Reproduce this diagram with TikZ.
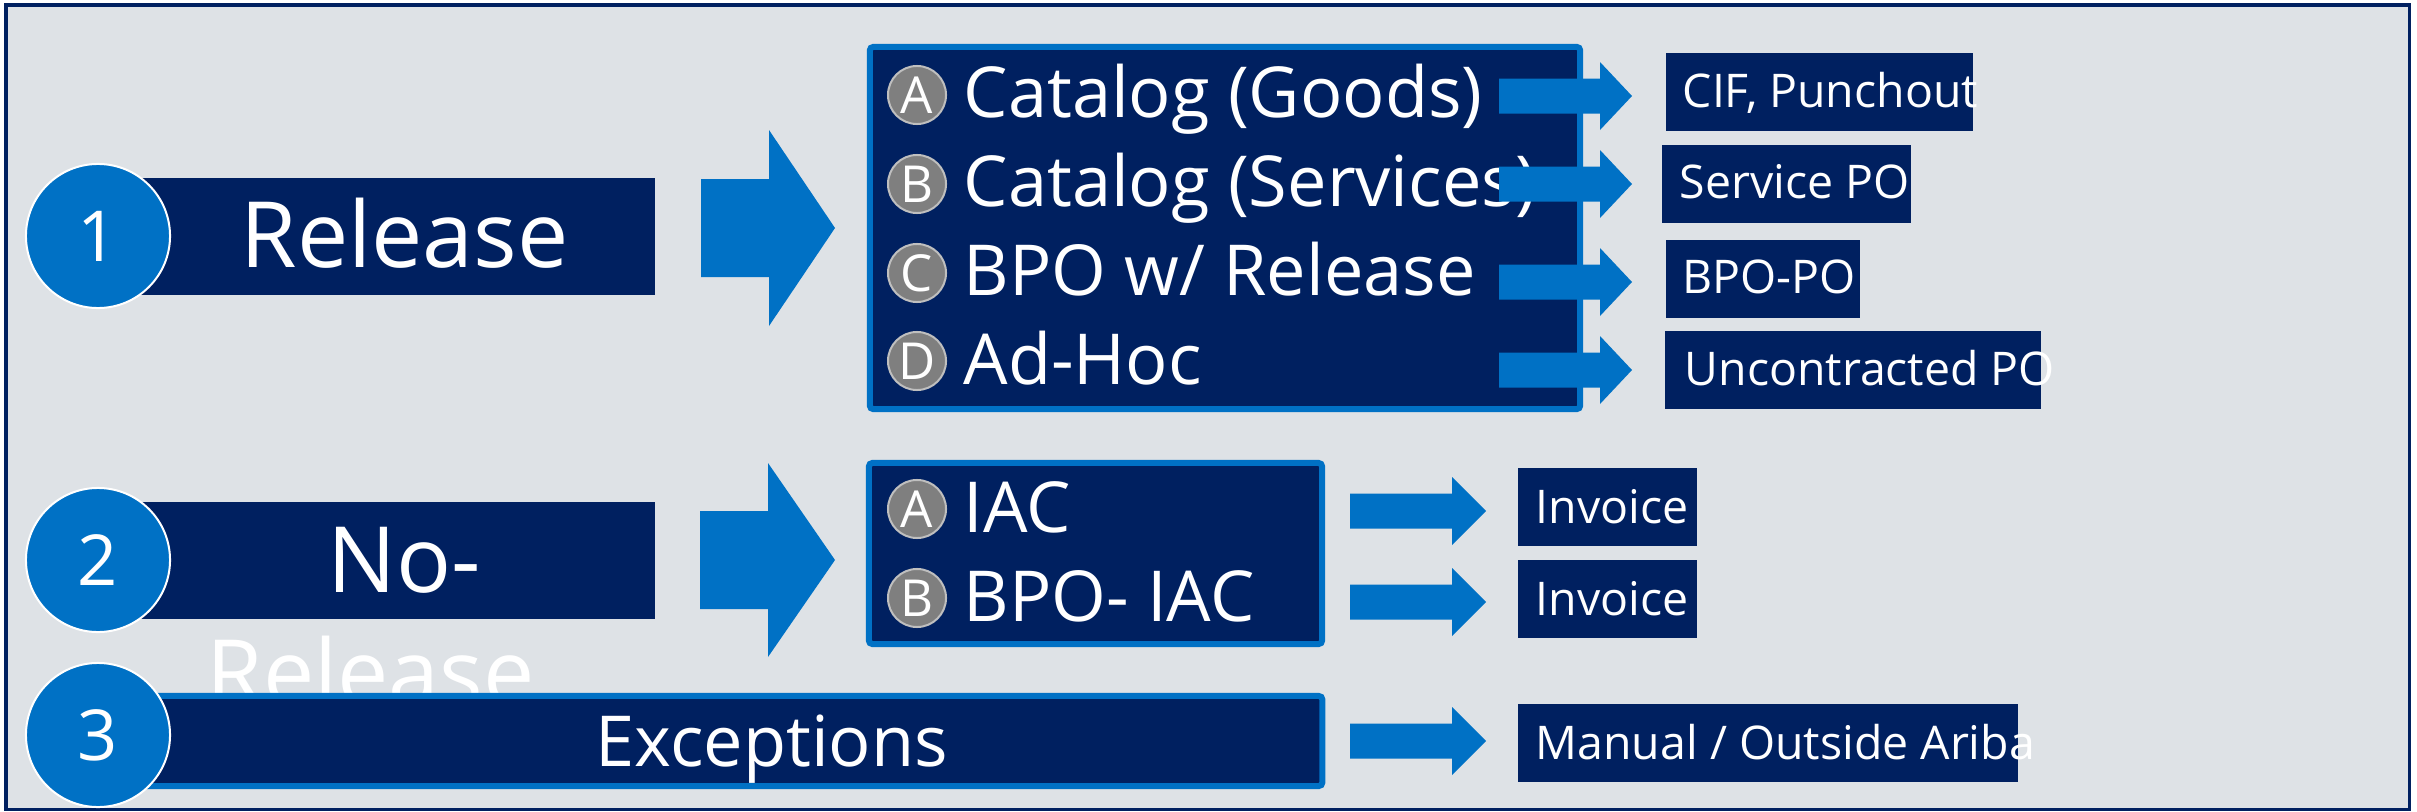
\documentclass[tikz,border=0pt]{standalone}
\usepackage{fontspec}
\setmainfont{Open Sans}
\definecolor{navy}{HTML}{002060}
\definecolor{intelblue}{HTML}{0071C5}
\definecolor{panelgray}{HTML}{DEE2E6}
\definecolor{badgegray}{HTML}{7F7F7F}
\definecolor{badgeline}{HTML}{BFBFBF}

% block arrow: start x, head base x, tip x, centre y, shaft half, head half
\newcommand{\blockarrow}[6]{%
  \fill[intelblue] (#1,#4-#5) -- (#2,#4-#5) -- (#2,#4-#6) -- (#3,#4)
    -- (#2,#4+#6) -- (#2,#4+#5) -- (#1,#4+#5) -- cycle;}

\tikzset{
  bar/.style={fill=navy, inner sep=0pt},
  groupbox/.style={fill=navy, draw=intelblue, line width=0.06cm, rounded corners=1pt, inner sep=0pt},
  outbox/.style={fill=navy, inner sep=0pt, minimum height=0.78cm},
  numcirc/.style={circle, fill=intelblue, draw=white, line width=0.02cm, minimum size=1.44cm,
    inner sep=0pt, text=white, font=\fontsize{20}{24}\selectfont},
  badge/.style={circle, fill=badgegray, draw=badgeline, line width=0.02cm, minimum size=0.58cm,
    inner sep=0pt, text=white, font=\fontsize{14.5}{16}\selectfont},
  bigtxt/.style={anchor=base west, inner sep=0pt, text=white, font=\fontsize{26}{30}\selectfont},
  listtxt/.style={anchor=base west, inner sep=0pt, text=white, font=\fontsize{20}{24}\selectfont},
  outtxt/.style={anchor=base west, inner sep=0pt, text=white, font=\fontsize{13.2}{16}\selectfont},
}

\begin{document}
\begin{tikzpicture}[x=0.01cm, y=-0.01cm]
    \useasboundingbox (0,0) rectangle (2417,812);
    % panel
    \draw[navy, line width=0.03cm, fill=panelgray] (6,5) rectangle (2409,809);
    % 1 release
    \node[bar, minimum width=5.55cm, minimum height=1.17cm] (relbar) at (377.5,236.5) {};
    \node[bigtxt] (reltxt) at (240,267) {Release};
    % 2 no-release
    \node[bar, minimum width=5.55cm, minimum height=1.17cm] (norelbar) at (377.5,560.5) {};
    \node[bigtxt] (notxt) at (327,592) {No-};
    \node[bigtxt] (noreltxt) at (206,705) {Release};
    % 3 exceptions
    \node[groupbox, minimum width=12.22cm, minimum height=0.90cm] (excbar) at (711,741) {};
    \node[listtxt] (exctxt) at (595,766) {Exceptions};
    % numbers
    \node[numcirc] (one) at (98,236) {1};
    \node[numcirc] (two) at (98,560) {2};
    \node[numcirc] (three) at (98,735) {3};
    % big arrows
    \blockarrow{701}{769}{835}{228}{49}{98}
    \blockarrow{700}{768}{835}{560}{49}{97}
    % release types
    \node[groupbox, minimum width=7.10cm, minimum height=3.62cm] (grp1) at (1225,228) {};
    \foreach \l/\y/\b/\t in {A/95/117/{Catalog (Goods)}, B/184/206/{Catalog (Services)},
        C/273/295/{BPO w/ Release}, D/361/384/{Ad-Hoc}} {
      \node[badge] (r\l) at (917,\y) {\l};
      \node[listtxt] (rt\l) at (963,\b) {\t};
    }
    % no-release types
    \node[groupbox, minimum width=4.53cm, minimum height=1.81cm] (grp2) at (1095.5,553.5) {};
    \foreach \l/\y/\b/\t in {A/509/532/{IAC}, B/598/621/{BPO- IAC}} {
      \node[badge] (n\l) at (917,\y) {\l};
      \node[listtxt] (nt\l) at (963,\b) {\t};
    }
    % small arrows
    \foreach \y in {96,184,282,370} {
      \blockarrow{1499}{1600}{1632}{\y}{17.5}{34}
    }
    \foreach \y in {511,602,741} {
      \blockarrow{1350}{1452}{1486}{\y}{17.5}{34}
    }
    % results
    \node[outbox, minimum width=3.07cm] (cif) at (1819.5,92) {};
    \node[outtxt] (ciftxt) at (1682,107) {CIF, Punchout};
    \node[outbox, minimum width=2.49cm] (svc) at (1786.5,184) {};
    \node[outtxt] (svctxt) at (1679,199) {Service PO};
    \node[outbox, minimum width=1.94cm] (bpo) at (1763,279) {};
    \node[outtxt] (bpotxt) at (1682,293) {BPO-PO};
    \node[outbox, minimum width=3.76cm] (unc) at (1853,370) {};
    \node[outtxt] (unctxt) at (1684,385) {Uncontracted PO};
    \node[outbox, minimum width=1.79cm] (inv1) at (1607.5,507) {};
    \node[outtxt] (inv1txt) at (1535,523) {Invoice};
    \node[outbox, minimum width=1.79cm] (inv2) at (1607.5,599) {};
    \node[outtxt] (inv2txt) at (1535,615) {Invoice};
    \node[outbox, minimum width=5.00cm] (man) at (1768,743) {};
    \node[outtxt] (mantxt) at (1535,759) {Manual / Outside Ariba};
\end{tikzpicture}
\end{document}
